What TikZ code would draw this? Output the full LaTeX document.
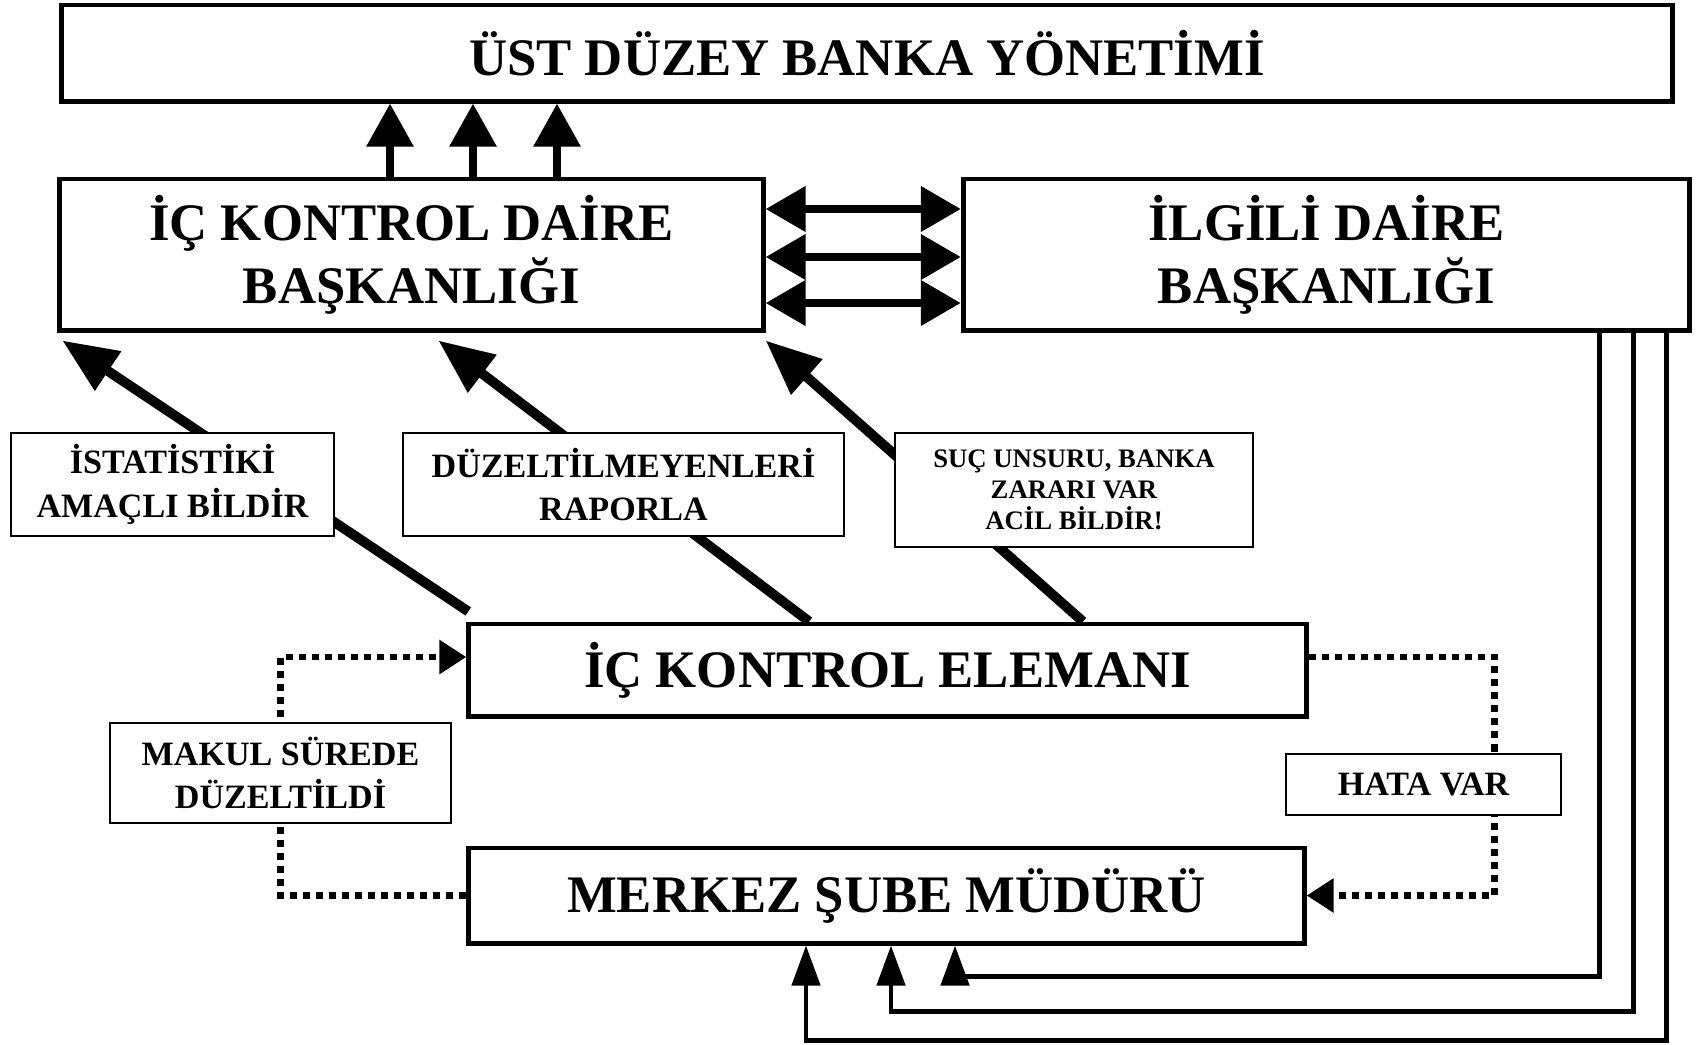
\documentclass[tikz,border=0pt]{standalone}
\usepackage{fontspec}
\setmainfont{Liberation Serif}
\usepackage{tikz}
\usetikzlibrary{arrows.meta, positioning, calc, backgrounds}

\begin{document}
\begin{tikzpicture}[
    x=0.01cm, y=-0.01cm,
    block/.style={draw, line width=1.4pt, fill=white, align=center, inner sep=0pt, font=\fontsize{15}{18}\selectfont\bfseries},
    tag/.style={draw, line width=0.5pt, fill=white, align=center, inner sep=0pt, font=\fontsize{9.7}{12.3}\selectfont\bfseries},
    uparrow/.style={-{Triangle[length=0.43cm, width=0.45cm]}, line width=2.5pt},
    twoway/.style={{Triangle[length=0.4cm, width=0.44cm]}-{Triangle[length=0.4cm, width=0.44cm]}, line width=2.2pt},
    report/.style={-{Triangle[length=0.55cm, width=0.45cm]}, line width=2.8pt},
    back/.style={-{Triangle[length=0.4cm, width=0.28cm]}, line width=1.3pt},
    dotarrow/.style={-{Triangle[length=0.27cm, width=0.33cm]}, line width=1.8pt, dash pattern=on 2pt off 1.7pt},
    node distance=0.6cm
]
    \useasboundingbox (0,0) rectangle (1697,1044);

    % Management
    \node[block, minimum width=16.1cm, minimum height=0.96cm] (top) at (867,53) {ÜST DÜZEY BANKA YÖNETİMİ};

    % Departments
    \node[block, minimum width=7.03cm, minimum height=1.51cm] (ick) at (411.5,254.5) {İÇ KONTROL DAİRE\\BAŞKANLIĞI};
    \node[block, minimum width=7.26cm, minimum height=1.51cm, right=1.95cm of ick] (ilgili) {İLGİLİ DAİRE\\BAŞKANLIĞI};

    % Staff and branch
    \node[block, minimum width=8.37cm, minimum height=0.92cm] (eleman) at (887.5,670) {İÇ KONTROL ELEMANI};
    \node[block, minimum width=8.35cm, minimum height=0.95cm] (merkez) at (886.5,895.5) {MERKEZ ŞUBE MÜDÜRÜ};

    % Labels
    \node[tag, minimum width=3.23cm, minimum height=1.03cm] (istat) at (172.5,484.5) {İSTATİSTİKİ\\AMAÇLI BİLDİR};
    \node[tag, minimum width=4.41cm, minimum height=1.03cm] (rapor) at (623.5,484.5) {DÜZELTİLMEYENLERİ\\RAPORLA};
    \node[tag, minimum width=3.58cm, minimum height=1.14cm, font=\fontsize{7.6}{8.8}\selectfont\bfseries] (acil) at (1074,490) {SUÇ UNSURU, BANKA\\ZARARI VAR\\ACİL BİLDİR!};
    \node[tag, minimum width=3.41cm, minimum height=1.0cm] (makul) at (280.5,773) {MAKUL SÜREDE\\DÜZELTİLDİ};
    \node[tag, minimum width=2.75cm, minimum height=0.61cm] (hata) at (1423.5,784.5) {HATA VAR};

    \begin{scope}[on background layer]
    % Up to management
    \foreach \dx in {-21.5,61.5,145.5} {
        \coordinate (u) at ($(ick.north)+(\dx,0)$);
        \draw[uparrow] (u) -- (u |- top.south);
    }

    % Between departments
    \foreach \dy in {-45.5,2.5,48.5} {
        \coordinate (d) at ($(ick.east)+(0,\dy)$);
        \draw[twoway] (d) -- (d -| ilgili.west);
    }

    % Reports
    \draw[report] ($(eleman.north west)+(2,-10)$) -- ($(ick.south west)+(5,8)$);
    \draw[report] ($(eleman.north west)!0.407!(eleman.north east)$) -- ($(ick.south west)!0.538!(ick.south east)+(0,8)$);
    \draw[report] ($(eleman.north west)!0.732!(eleman.north east)$) -- ($(ick.south east)+(0,8)$);

    % Dotted loops
    \draw[dotarrow] (merkez.west) -| (makul.center) |- ($(eleman.west)+(0,-13)$);
    \draw[dotarrow] ($(eleman.east)+(0,-13)$) -| ($(hata.center)+(71,0)$) |- (merkez.east);

    % Back to branch
    \foreach \dx/\dy/\ex in {273/31/68.5, 307/66/4.5, 340/95/-80.5} {
        \draw[back] ($(ilgili.south)+(\dx,0)$) |- ($(merkez.south)+(\ex,\dy)$) -- ($(merkez.south)+(\ex,0)$);
    }
    \end{scope}

\end{tikzpicture}
\end{document}
